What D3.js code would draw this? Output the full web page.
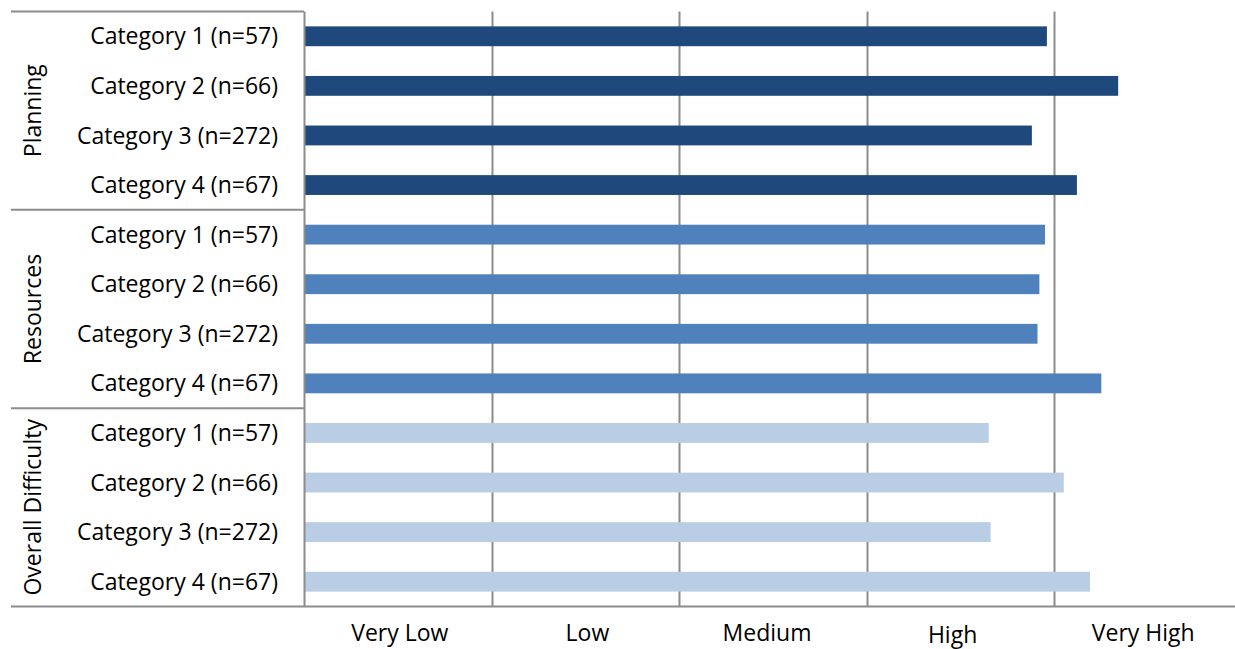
<!DOCTYPE html>
<html><head><meta charset="utf-8">
<script src="https://cdn.jsdelivr.net/npm/d3@7"></script>
<style>body{margin:0;background:#fff;}svg{display:block;font-family:"Open Sans",sans-serif;}</style>
</head><body><svg id="c" width="1235" height="649"></svg>
<script>
const groups = ["Planning", "Resources", "Overall Difficulty"];
const categories = ["Category 1 (n=57)", "Category 2 (n=66)", "Category 3 (n=272)", "Category 4 (n=67)"];
const planningValues = [3.96, 4.34, 3.88, 4.12];
const resourcesValues = [3.95, 3.92, 3.91, 4.25];
const overallValues = [3.65, 4.05, 3.66, 4.19];
const tickLabels = ["Very Low", "Low", "Medium", "High", "Very High"];
const groupColors = ["#1F497D", "#4F81BD", "#B9CDE5"];

const seriesByGroup = [planningValues, resourcesValues, overallValues];
const rows = [];
groups.forEach((g, gi) => categories.forEach((c, ci) => rows.push({key: g + "|" + c, group: g, gi, cat: c, value: seriesByGroup[gi][ci]})));

const svg = d3.select("#c");
const plotLeft = 304, plotRight = 1242, plotTop = 11.5, plotBottom = 606.5;
const x = d3.scaleLinear().domain([0, 5]).range([plotLeft, plotRight]);
const yRow = d3.scaleBand().domain(rows.map(r => r.key)).range([plotTop, plotBottom]);
const gridColor = "#8c8c8c";

// gridlines
svg.append("g").selectAll("line").data([1, 2, 3, 4]).join("line")
  .attr("x1", d => Math.round(x(d)) + 0.5).attr("x2", d => Math.round(x(d)) + 0.5)
  .attr("y1", plotTop).attr("y2", plotBottom)
  .attr("stroke", gridColor).attr("stroke-width", 2);

// bars
svg.append("g").selectAll("rect").data(rows).join("rect")
  .attr("x", x(0)).attr("y", d => yRow(d.key) + yRow.bandwidth() * 0.3)
  .attr("width", d => x(d.value) - x(0)).attr("height", yRow.bandwidth() * 0.4)
  .attr("fill", d => groupColors[d.gi]);

// x axis baseline
svg.append("line").attr("x1", plotLeft).attr("x2", 1235).attr("y1", plotBottom).attr("y2", plotBottom)
  .attr("stroke", gridColor).attr("stroke-width", 2);
// y axis line
svg.append("line").attr("x1", plotLeft + 0.5).attr("x2", plotLeft + 0.5).attr("y1", plotTop).attr("y2", plotBottom)
  .attr("stroke", gridColor).attr("stroke-width", 2);

// group separators
const sepY = [0, 4, 8].map(i => yRow(rows[i].key)).concat([plotBottom]);
svg.append("g").selectAll("line").data(sepY).join("line")
  .attr("x1", 11).attr("x2", plotLeft).attr("y1", d => d).attr("y2", d => d)
  .attr("stroke", gridColor).attr("stroke-width", 2);

// category labels
svg.append("g").selectAll("text").data(rows).join("text")
  .attr("x", 278).attr("y", d => yRow(d.key) + yRow.bandwidth() / 2)
  .attr("dy", "0.35em").attr("text-anchor", "end")
  .attr("font-size", 23).attr("fill", "#000").text(d => d.cat);

// group labels
groups.forEach((g, gi) => {
  const yc = (sepY[gi] + sepY[gi + 1]) / 2;
  svg.append("text").attr("transform", `translate(33,${yc}) rotate(-90)`)
    .attr("dy", "0.35em").attr("text-anchor", "middle")
    .attr("font-size", 23).attr("fill", "#000").text(g);
});

// x tick labels (centered within bands)
const tickOffsets = [2, 2, -6, -8, -5];
svg.append("g").selectAll("text").data(tickLabels).join("text")
  .attr("x", (d, i) => x(i + 0.5) + tickOffsets[i])
  .attr("y", (d, i) => i === 3 ? 643 : 641)
  .attr("text-anchor", "middle")
  .attr("font-size", 23).attr("fill", "#000")
  .text(d => d);
</script></body></html>
